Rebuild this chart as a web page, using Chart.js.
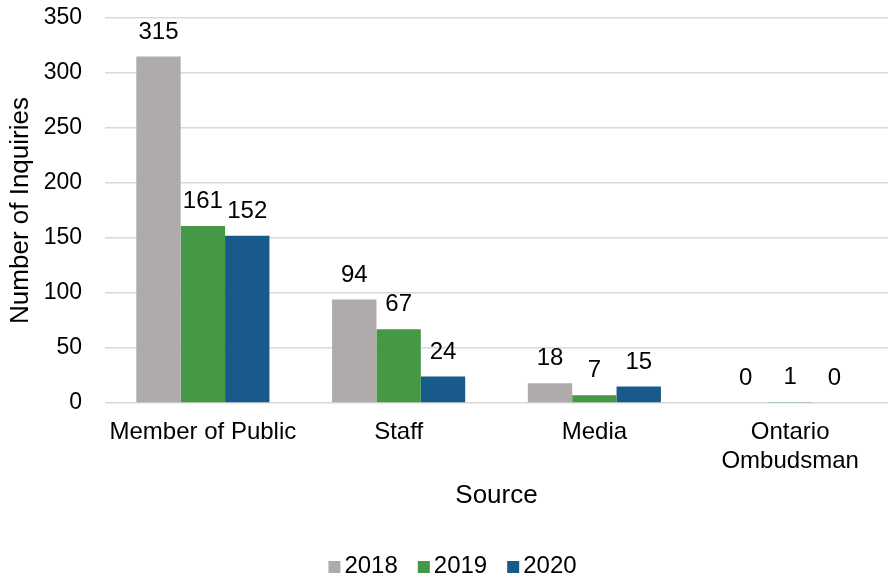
<!DOCTYPE html>
<html>
<head>
<meta charset="utf-8">
<script src="https://cdn.jsdelivr.net/npm/chart.js@4/dist/chart.umd.min.js"></script>
<style>
  html, body { margin: 0; padding: 0; background: #ffffff; }
  #wrap { width: 889px; height: 580px; position: relative; }
</style>
</head>
<body>
<div id="wrap"><canvas id="chart" width="889" height="580"></canvas></div>
<script>
// Inquiries received, grouped by source and year
const categories = ['Member of Public', 'Staff', 'Media', ['Ontario', 'Ombudsman']];
const years = ['2018', '2019', '2020'];
const values2018 = [315, 94, 18, 0];
const values2019 = [161, 67, 7, 1];
const values2020 = [152, 24, 15, 0];
const yTicks = [0, 50, 100, 150, 200, 250, 300, 350];

const colors = ['#afabab', '#449846', '#175a8b'];
const FONT = '"Liberation Sans", Arial, sans-serif';

// Prints each bar's value above it
const valueLabels = {
  id: 'valueLabels',
  afterDatasetsDraw(chart) {
    const ctx = chart.ctx;
    ctx.save();
    ctx.font = '24px ' + FONT;
    ctx.fillStyle = '#000000';
    ctx.textAlign = 'center';
    ctx.textBaseline = 'alphabetic';
    chart.data.datasets.forEach((ds, i) => {
      const meta = chart.getDatasetMeta(i);
      meta.data.forEach((bar, j) => {
        ctx.fillText(String(ds.data[j]), bar.x, bar.y - 18);
      });
    });
    ctx.restore();
  }
};

// Compact legend row under the axis title: square swatch, small gap, year
const legendRow = {
  id: 'legendRow',
  afterDraw(chart) {
    const ctx = chart.ctx;
    const box = 12, gap = 4, spacing = 20, centerX = 452.5, baseline = 573;
    ctx.save();
    ctx.font = '24px ' + FONT;
    ctx.textAlign = 'left';
    ctx.textBaseline = 'alphabetic';
    const items = chart.data.datasets.map(ds => ({
      text: ds.label, color: ds.backgroundColor, w: ctx.measureText(ds.label).width
    }));
    const total = items.reduce((s, it) => s + box + gap + it.w, 0) + spacing * (items.length - 1);
    let x = centerX - total / 2;
    items.forEach(it => {
      ctx.fillStyle = it.color;
      ctx.fillRect(x, baseline - 12, box, box);
      ctx.fillStyle = '#000000';
      ctx.fillText(it.text, x + box + gap, baseline);
      x += box + gap + it.w + spacing;
    });
    ctx.restore();
  }
};

const seriesValues = [values2018, values2019, values2020];

new Chart(document.getElementById('chart'), {
  type: 'bar',
  data: {
    labels: categories,
    datasets: years.map((y, i) => ({
      label: y,
      data: seriesValues[i],
      backgroundColor: colors[i],
      borderWidth: 0,
      barPercentage: 1.0,
      categoryPercentage: 0.68
    }))
  },
  options: {
    responsive: false,
    animation: false,
    layout: { padding: { top: 18, right: 1, left: 0, bottom: 69 } },
    plugins: {
      tooltip: { enabled: false },
      legend: { display: false }
    },
    scales: {
      x: {
        grid: { display: false, drawTicks: false },
        border: { display: false },
        afterFit(scale) { scale.height = 108; scale.paddingLeft = 0; scale.paddingRight = 0; },
        ticks: {
          font: { family: FONT, size: 24 },
          color: '#000000',
          padding: 15,
          maxRotation: 0,
          autoSkip: false
        },
        title: {
          display: true,
          text: 'Source',
          font: { family: FONT, size: 26 },
          color: '#000000',
          padding: { top: 4, bottom: 0 }
        }
      },
      y: {
        min: 0,
        max: 350,
        afterBuildTicks(scale) { scale.ticks = yTicks.map(v => ({ value: v })); },
        afterFit(scale) { scale.width = 105; scale.paddingTop = 0; scale.paddingBottom = 0; },
        grid: { color: '#d9d9d9', lineWidth: 1.5, drawTicks: false },
        border: { display: false },
        ticks: {
          font: { family: FONT, size: 23 },
          color: '#000000',
          padding: 23
        },
        title: {
          display: true,
          text: 'Number of Inquiries',
          font: { family: FONT, size: 26 },
          color: '#000000',
          padding: { top: 5, bottom: 0 }
        }
      }
    }
  },
  plugins: [valueLabels, legendRow]
});
</script>
</body>
</html>
